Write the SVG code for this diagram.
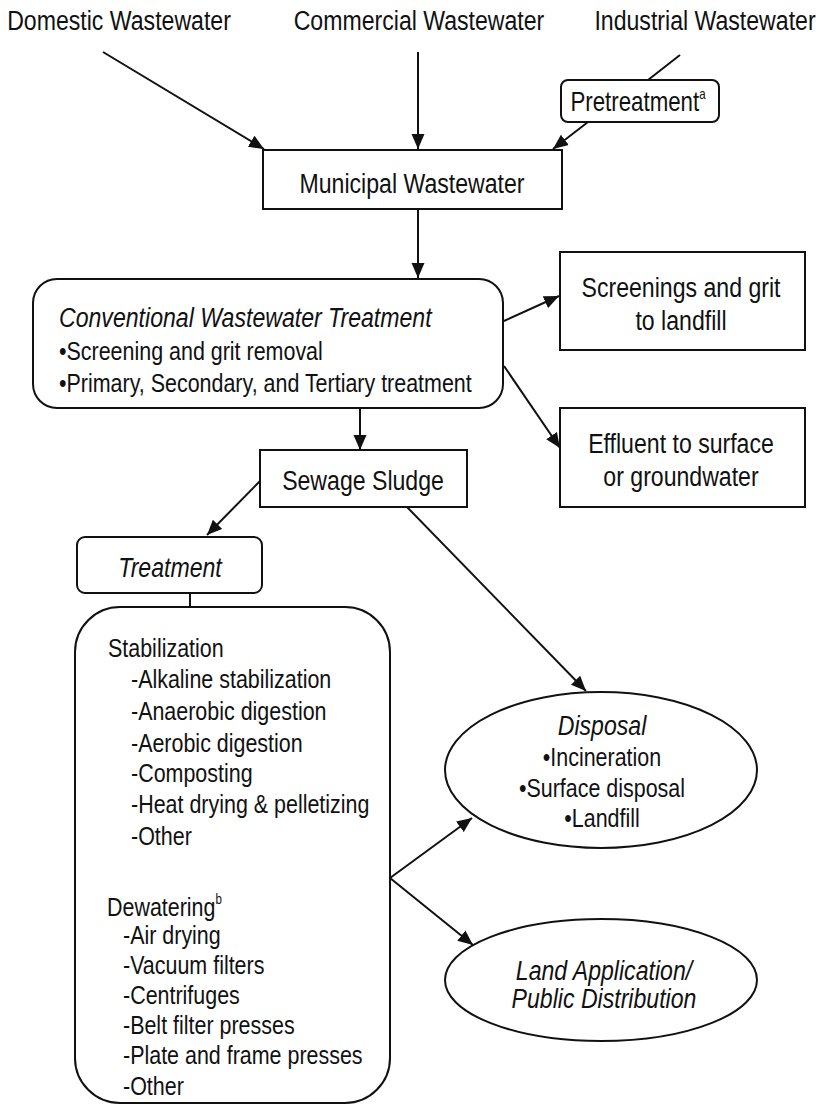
<svg xmlns="http://www.w3.org/2000/svg" width="820" height="1106" viewBox="0 0 820 1106">
<defs>
<marker id="arr" markerUnits="userSpaceOnUse" markerWidth="16" markerHeight="14" refX="15" refY="7" orient="auto">
<path d="M0,0.5 L15,7 L0,13.5 z" fill="#111"/>
</marker>
<style>
text{font-family:'Liberation Sans',Arial,sans-serif;fill:#111}
.h{font-size:28px}
.b{font-size:26px}
.i{font-style:italic}
.m{text-anchor:middle}
.box{fill:#fff;stroke:#111;stroke-width:2}
.ln{fill:none;stroke:#111;stroke-width:2}
.sup{font-size:14px}
</style>
</defs>
<rect width="820" height="1106" fill="#fff"/>

<g id="connectors">
<line class="ln" x1="103" y1="52" x2="264" y2="149" marker-end="url(#arr)"/>
<line class="ln" x1="418" y1="52" x2="418" y2="149" marker-end="url(#arr)"/>
<line class="ln" x1="680" y1="55" x2="648" y2="80"/>
<line class="ln" x1="588" y1="122" x2="553" y2="149" marker-end="url(#arr)"/>
<line class="ln" x1="418" y1="209" x2="418" y2="278" marker-end="url(#arr)"/>
<line class="ln" x1="504" y1="321" x2="559" y2="296" marker-end="url(#arr)"/>
<line class="ln" x1="504" y1="366" x2="560" y2="448" marker-end="url(#arr)"/>
<line class="ln" x1="360" y1="408" x2="360" y2="450" marker-end="url(#arr)"/>
<line class="ln" x1="260" y1="481" x2="207" y2="535" marker-end="url(#arr)"/>
<line class="ln" x1="407" y1="507" x2="586" y2="691" marker-end="url(#arr)"/>
<line class="ln" x1="190" y1="593" x2="190" y2="607"/>
<line class="ln" x1="390" y1="878" x2="472" y2="818" marker-end="url(#arr)"/>
<line class="ln" x1="390" y1="878" x2="473" y2="945" marker-end="url(#arr)"/>
</g>

<g id="domestic"><text class="h m" transform="translate(119,30) scale(0.825,1)">Domestic Wastewater</text></g>
<g id="commercial"><text class="h m" transform="translate(419,30) scale(0.825,1)">Commercial Wastewater</text></g>
<g id="industrial"><text class="h m" transform="translate(705,30) scale(0.825,1)">Industrial Wastewater</text></g>

<g id="pretreatment">
<rect class="box" x="561" y="80" width="158" height="42" rx="7"/>
<text class="m" transform="translate(638,111) scale(0.825,1)" style="font-size:27px">Pretreatment<tspan class="sup" dy="-12">a</tspan></text>
</g>

<g id="municipal">
<rect class="box" x="263" y="150" width="299" height="59"/>
<text class="h m" transform="translate(412,193) scale(0.825,1)">Municipal Wastewater</text>
</g>

<g id="conventional">
<rect class="box" x="33" y="279" width="470" height="129" rx="24"/>
<text class="h i" transform="translate(59,327) scale(0.825,1)">Conventional Wastewater Treatment</text>
<text class="b" transform="translate(59,360) scale(0.825,1)">•Screening and grit removal</text>
<text class="b" transform="translate(59,392) scale(0.825,1)">•Primary, Secondary, and Tertiary treatment</text>
</g>

<g id="screenings">
<rect class="box" x="560" y="252" width="245" height="98"/>
<text class="h m" transform="translate(681,297) scale(0.825,1)">Screenings and grit</text>
<text class="h m" transform="translate(681,330) scale(0.825,1)">to landfill</text>
</g>

<g id="effluent">
<rect class="box" x="560" y="408" width="245" height="99"/>
<text class="h m" transform="translate(681,453) scale(0.825,1)">Effluent to surface</text>
<text class="h m" transform="translate(681,486) scale(0.825,1)">or groundwater</text>
</g>

<g id="sludge">
<rect class="box" x="260" y="450" width="207" height="57"/>
<text class="h m" transform="translate(363,490) scale(0.825,1)">Sewage Sludge</text>
</g>

<g id="treatment">
<rect class="box" x="77" y="537" width="185" height="56" rx="8"/>
<text class="h i m" transform="translate(170,577) scale(0.825,1)">Treatment</text>
</g>

<g id="processes">
<rect class="box" x="75" y="607" width="315" height="496" rx="45"/>
<text class="b" transform="translate(108,657) scale(0.825,1)">Stabilization</text>
<text class="b" transform="translate(131,688) scale(0.825,1)">-Alkaline stabilization</text>
<text class="b" transform="translate(131,720) scale(0.825,1)">-Anaerobic digestion</text>
<text class="b" transform="translate(131,752) scale(0.825,1)">-Aerobic digestion</text>
<text class="b" transform="translate(131,782) scale(0.825,1)">-Composting</text>
<text class="b" transform="translate(131,813) scale(0.825,1)">-Heat drying &amp; pelletizing</text>
<text class="b" transform="translate(131,845) scale(0.825,1)">-Other</text>
<text class="b" transform="translate(107,916) scale(0.825,1)">Dewatering<tspan class="sup" dy="-12">b</tspan></text>
<text class="b" transform="translate(123,944) scale(0.825,1)">-Air drying</text>
<text class="b" transform="translate(123,974) scale(0.825,1)">-Vacuum filters</text>
<text class="b" transform="translate(123,1004) scale(0.825,1)">-Centrifuges</text>
<text class="b" transform="translate(123,1034) scale(0.825,1)">-Belt filter presses</text>
<text class="b" transform="translate(123,1064) scale(0.825,1)">-Plate and frame presses</text>
<text class="b" transform="translate(123,1095) scale(0.825,1)">-Other</text>
</g>

<g id="disposal">
<ellipse class="box" cx="601" cy="770" rx="156" ry="78"/>
<text class="h i m" transform="translate(602,735) scale(0.825,1)">Disposal</text>
<text class="b m" transform="translate(602,766) scale(0.825,1)">•Incineration</text>
<text class="b m" transform="translate(602,797) scale(0.825,1)">•Surface disposal</text>
<text class="b m" transform="translate(602,827) scale(0.825,1)">•Landfill</text>
</g>

<g id="land">
<ellipse class="box" cx="601" cy="980" rx="156" ry="61"/>
<text class="h i m" transform="translate(604,980) scale(0.825,1)">Land Application/</text>
<text class="h i m" transform="translate(604,1008) scale(0.825,1)">Public Distribution</text>
</g>
</svg>
